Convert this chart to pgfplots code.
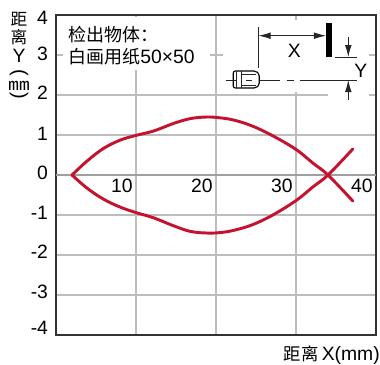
\documentclass[border=0pt]{standalone}
\usepackage{pgfplots}
\pgfplotsset{compat=1.18}
\usepackage{fontspec}
\setmainfont{Liberation Sans}
\newfontfamily\cjk{Noto Sans CJK SC}
\usetikzlibrary{arrows.meta}
\definecolor{curve}{HTML}{C4122F}
\definecolor{gridc}{HTML}{BDBDBD}
\definecolor{framec}{HTML}{333333}
\newcommand\yl[2]{\raisebox{#1pt}{#2}}
\begin{document}
\begin{tikzpicture}[x=.75pt,y=-.75pt]
\path (0,0) rectangle (380,365);
\begin{axis}[
  at={(42pt,-251.25pt)}, anchor=south west,
  width=240pt, height=240pt, scale only axis,
  xmin=0, xmax=40, ymin=-4, ymax=4,
  xtick={0,10,20,30,40}, xticklabels={,10,20,30,40},
  ytick={-4,-3,-2,-1,0,1,2,3,4},
  yticklabels={\yl{0.4}{-4},\yl{-2.6}{-3},\yl{-2.6}{-2},\yl{-3.4}{-1},\yl{-3.4}{0},\yl{-4.1}{1},\yl{-3.4}{2},\yl{-3.8}{3},\yl{-7.1}{4}},
  major tick length=0pt,
  grid=major,
  grid style={gridc, line width=.8pt},
  axis line style={framec, line width=1.2pt},
  tick label style={font=\fontsize{14.5pt}{16pt}\selectfont, inner sep=0pt, outer sep=0pt},
  yticklabel style={anchor=base east, xshift=-6pt},
  xticklabel style={anchor=base, xshift=-10.5pt, yshift=107pt},
  clip=false,
]
\addplot[color=gray!75, line width=1.5pt, forget plot] coordinates {(0,0) (40,0)};
\addplot[color=curve, line width=2.2pt, smooth, tension=.6, line cap=round, line join=round] coordinates {
 (2,0) (3.83,.34) (5.9,.66) (8,.87) (10,.99) (12.2,1.1) (14.7,1.29) (16.8,1.41) (18.8,1.45) (20.5,1.43) (22.3,1.37) (24.6,1.22) (27.1,.98) (30,.64) (32.1,.30) (34,0) (37.1,-.65)};
\addplot[color=curve, line width=2.2pt, smooth, tension=.6, line cap=round, line join=round] coordinates {
 (2,0) (3.83,-.32) (5.9,-.6) (8,-.8) (10,-.94) (12.2,-1.07) (14.7,-1.27) (16.8,-1.41) (18.8,-1.45) (20.5,-1.44) (22.3,-1.38) (24.6,-1.24) (27.1,-1.0) (30,-.64) (32.1,-.30) (34,0) (37.1,.65)};
\end{axis}
% masks behind the inset
\fill[white] (223,20) rectangle (369,92);
\fill[white] (328,92) rectangle (369,98);
\fill[white] (63,16.5) rectangle (210,70);
% inset text
\node[anchor=west,inner sep=0pt,font=\fontsize{13.5pt}{15pt}\selectfont\cjk] at (68,35) {检出物体：};
\node[anchor=west,inner sep=0pt,font=\fontsize{13.5pt}{15pt}\selectfont] at (68,57) {{\cjk 白画用纸}\fontsize{14.5pt}{15pt}\selectfont 50×50};
% schematic
\fill[black] (326,22.7) rectangle (332.3,57.3);
\draw[black!85,line width=.75pt] (258.3,27) -- (258.3,68);
\draw[black!85,line width=.6pt,{Latex[length=9pt,width=5pt]}-{Latex[length=9pt,width=5pt]}] (258.6,35.7) -- (326,35.7);
\node[font=\fontsize{14.5pt}{16pt}\selectfont,inner sep=0pt] at (294.3,51) {X};
\node[font=\fontsize{14.5pt}{16pt}\selectfont,inner sep=0pt] at (360.7,70.5) {Y};
\draw[black!85,line width=.6pt] (335,57) -- (357.3,57);
\draw[black!85,line width=.6pt,-{Latex[length=9pt,width=5pt]}] (348.3,37) -- (348.3,57);
\draw[black!85,line width=.6pt,-{Latex[length=9pt,width=5pt]}] (348.3,100) -- (348.3,80);
\draw[black!85,line width=.75pt] (226,80) -- (280,80) (286.7,80) -- (294,80) (300,80) -- (357.3,80);
\filldraw[fill=white,draw=black,line width=.85pt,rounded corners=1.5pt] (233.3,71) -- (256,71) -- (259.3,74) -- (259.3,85) -- (256,88) -- (233.3,88) -- cycle;
\draw[black!85,line width=.6pt] (236,71) -- (236,88) (241.5,71) -- (241.5,88) (241.5,74) -- (256,74) (241.5,85) -- (256,85);
\draw[black!85,line width=.6pt] (226,80) -- (236,80) (246,80) -- (252,80);
% y axis label
\node[font=\fontsize{12.5pt}{14pt}\selectfont\cjk,inner sep=0pt] at (19,19) {距};
\node[font=\fontsize{12.5pt}{14pt}\selectfont\cjk,inner sep=0pt] at (19,37) {离};
\node[font=\fontsize{14.5pt}{16pt}\selectfont,inner sep=0pt] at (19,56) {Y};
\node[font=\fontsize{15pt}{16pt}\selectfont,inner sep=0pt,rotate=-90] at (19,73) {(};
\node[font=\fontsize{12.5pt}{14pt}\selectfont\cjk,inner sep=0pt] at (19,86) {\scalebox{1.3}[1]{㎜}};
\node[font=\fontsize{15pt}{16pt}\selectfont,inner sep=0pt,rotate=-90] at (19,96) {)};
% x axis label
\node[anchor=east,inner sep=0pt,font=\fontsize{14.5pt}{16pt}\selectfont] at (380,355) {{\cjk\fontsize{13pt}{14pt}\selectfont 距离}\,X(mm)};
\end{tikzpicture}
\end{document}
